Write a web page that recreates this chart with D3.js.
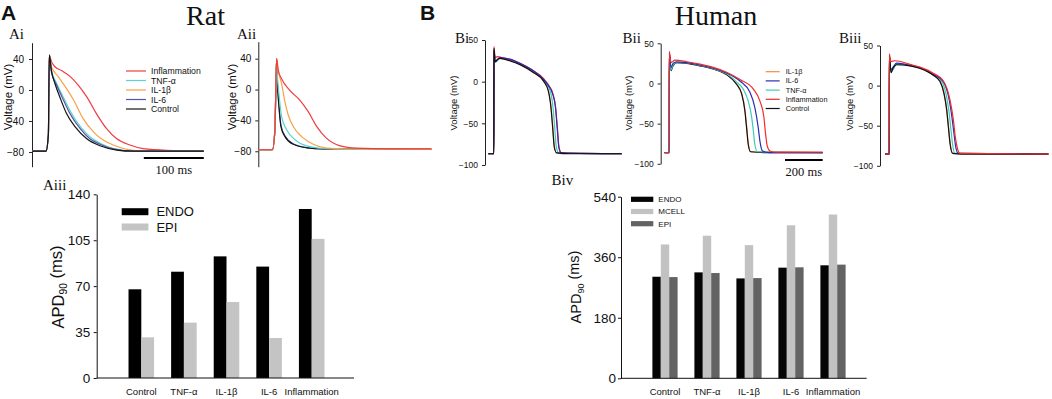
<!DOCTYPE html>
<html>
<head>
<meta charset="utf-8">
<script src="https://cdn.jsdelivr.net/npm/d3@7"></script>
<style>
body { margin: 0; background: #fff; }
text { font-family: "Liberation Sans", Arial, sans-serif; fill: #111; }
.serif { font-family: "Liberation Serif", "Times New Roman", serif; }
</style>
</head>
<body>
<svg id="fig" width="1052" height="399"></svg>
<script>
// ---- data: [time (ms), voltage (mV)] ----
// Rat, ENDO (Ai)
var aiControl = [[-28,-79],[-5,-79],[-1,-57],[0.5,45],[4,25],[10,8],[18,-9],[29,-30],[44,-48],[63,-63],[85,-72],[113,-77.5],[141,-79],[258,-79]];
var aiIl6 = [[-28,-79],[-5,-79],[-1,-57],[0.5,45],[4,23],[12.8,6],[24,-13],[35,-30.5],[52,-50],[68,-63],[85,-70],[107,-76],[141,-79],[258,-79]];
var aiTnf = [[-28,-79],[-5,-79],[-1,-57],[0.5,45],[4,26],[13,8],[25,-11],[36,-28],[53,-48],[69,-61],[86,-69],[108,-75.5],[141,-78.5],[258,-79]];
var aiIl1b = [[-28,-79],[-5,-79],[-1,-57],[0.5,45],[4,30],[15.6,17],[29,2],[41,-13],[57,-37],[74,-54],[91,-65],[107,-71],[129,-76.5],[152,-78.5],[258,-79]];
var aiInflam = [[-28,-79],[-5,-79],[-1,-57],[0.5,45],[4.4,36],[10,30],[21,25],[35,17.6],[49,6],[63,-9],[79,-30.5],[96,-50],[113,-63],[135,-71],[157,-75.7],[196,-77.8],[258,-78.5]];
// Rat, EPI (Aii)
var aiiControl = [[-31,-78],[-7,-78],[-2.8,-52],[0,40],[1.1,12],[3.9,-22],[7.2,-48],[13.9,-61],[27.8,-71],[50,-75.5],[78,-77],[258,-77.5]];
var aiiIl6 = [[-31,-78],[-7,-78],[-2.8,-52],[0,40],[1.2,13],[4,-21],[7.5,-47],[14.5,-60.5],[28.5,-70.5],[51,-75.3],[80,-77],[258,-77.5]];
var aiiTnf = [[-31,-78],[-7,-78],[-2.8,-52],[0,40],[1.1,20.6],[4.4,-9.4],[8.3,-35],[16.7,-52],[30.6,-65],[50,-73],[78,-76.4],[120,-77.5],[258,-77.5]];
var aiiIl1b = [[-31,-78],[-7,-78],[-2.8,-52],[0,40],[1.7,29],[8.3,7.7],[13.9,-16],[19.4,-33],[27.8,-48],[41.7,-61],[61,-71],[83,-76],[117,-77],[258,-77.5]];
var aiiInflam = [[-31,-78],[-7,-78],[-2.8,-52],[0,40],[2.8,25],[8.3,14],[22,-1],[39,-14],[53,-29],[67,-48],[83,-63],[106,-73],[133,-76],[189,-77],[258,-77]];
// Human, ENDO (Bi)
var biControl = [[-30,-86.5],[-0.5,-86.5],[0,40],[6,24],[20,27],[32,28],[85,25],[138,20.5],[209,11],[262,1],[288,-11],[302,-31],[311,-55],[320,-79],[332,-85.5],[400,-86.5],[677,-86.5]];
var biIl1b = [[-30,-86.5],[-0.5,-86.5],[0,39],[6,25],[32,28],[85,25.5],[138,20.5],[209,11],[262,1],[289,-11],[303,-31],[312,-55],[321,-79],[333,-85.5],[677,-86.5]];
var biTnf = [[-30,-86.5],[-0.5,-86.5],[0,38],[6,23],[32,28],[85,26],[138,21],[209,12],[262,2],[298,-11],[313,-31],[322,-55],[331,-79],[344,-85.5],[677,-86.5]];
var biIl6 = [[-30,-86.5],[-0.5,-86.5],[0,38],[6,24],[32,29],[85,27],[138,22],[209,13],[262,3],[290,-5],[310,-14],[326,-31],[335,-55],[344,-79],[356,-85.5],[677,-86.5]];
var biInflam = [[-30,-86.5],[-0.5,-86.5],[0,42],[6,29],[20,30],[40,29],[85,26.5],[138,22],[209,13],[262,4],[292,-5],[312,-14],[327,-31],[336,-55],[345,-79],[358,-85.5],[677,-86.5]];
// Human, MCELL (Bii)
var biiControl = [[-26,-86],[-0.5,-86],[0,38],[9,16],[20,22],[39,26],[92,25],[163,22],[233,18],[304,11],[357,-1],[384,-13],[401,-34],[410,-55],[419,-76],[431,-85],[500,-86],[814,-86]];
var biiIl1b = [[-26,-86],[-0.5,-86],[0,37],[9,18],[20,23],[39,26],[92,25],[163,22],[233,18],[304,11],[357,-1],[385,-13],[402,-34],[411,-55],[420,-76],[432,-85],[814,-86]];
var biiTnf = [[-26,-86],[-0.5,-86],[0,37],[9,17],[20,23],[39,26],[92,25.5],[163,22.5],[233,18.5],[304,12],[357,2],[392,-7],[419,-22],[437,-42],[446,-59],[454,-76],[467,-85],[814,-86]];
var biiIl6 = [[-26,-86],[-0.5,-86],[0,37],[9,20],[20,25],[39,27],[92,26],[163,23],[233,19],[304,13],[375,3],[428,-11],[454,-30],[472,-55],[481,-72],[495,-84],[530,-86],[814,-86]];
var biiInflam = [[-26,-86],[-0.5,-86],[0,40],[9,26],[30,29],[92,27],[163,24],[233,20],[304,14],[375,5],[446,-7],[481,-22],[502,-42],[511,-63],[520,-78],[534,-84],[570,-85.5],[814,-85.5]];
// Human, EPI (Biii)
var biiiControl = [[-23,-85.4],[-0.5,-85.4],[0,38],[9,16],[20,22],[39,26],[110,24.5],[163,21.5],[233,13],[269,5],[290,-10],[304,-30],[313,-51],[322,-72],[336,-84.6],[380,-85.4],[844,-85.4]];
var biiiIl1b = [[-23,-85.4],[-0.5,-85.4],[0,37],[9,18],[39,26.5],[110,25],[163,22],[233,13.5],[269,5.5],[291,-10],[305,-30],[314,-51],[323,-72],[337,-84.6],[844,-85.4]];
var biiiTnf = [[-23,-85.4],[-0.5,-85.4],[0,37],[9,17],[39,26.5],[110,25],[163,22],[233,13.5],[278,5],[304,-14],[318,-35],[327,-55],[336,-74],[348,-84.6],[844,-85.4]];
var biiiIl6 = [[-23,-85.4],[-0.5,-85.4],[0,37],[7,20],[39,28],[110,25.5],[163,22.5],[233,14],[286,5],[318,-18],[332,-39],[343,-60],[352,-76],[366,-84.6],[844,-85.4]];
var biiiInflam = [[-23,-85.4],[-0.5,-85.4],[0,39.5],[7,30],[30,31],[110,26.5],[163,23],[233,15.5],[286,6],[322,-18],[340,-43],[350,-64],[361,-78],[375,-84.6],[844,-85.4]];

// APD90 bars
var ratCategories = ["Control", "TNF-α", "IL-1β", "IL-6", "Inflammation"];
var ratEndo = [67.6, 81, 92.7, 84.9, 128.8];
var ratEpi = [31, 42.2, 57.9, 30.5, 106];
var ratApdTicks = [0, 35, 70, 105, 140];

var humanCategories = ["Control", "TNF-α", "IL-1β", "IL-6", "Inflammation"];
var humanEndo = [302, 315, 297, 329, 336];
var humanMcell = [398, 424, 396, 455, 487];
var humanEpi = [301, 313, 298, 330, 338];
var humanApdTicks = [0, 180, 360, 540];

var ratVoltTicks = [-80, -40, 0, 40];
var humanVoltTicks = [-100, -50, 0, 50];

var ratColors = { control: "#151515", tnf: "#5cd3cf", il1b: "#f7a145", il6: "#5656a6", inflam: "#f23a3e" };
var humanColors = { control: "#111111", tnf: "#3fcab8", il1b: "#f28a45", il6: "#2b2bb5", inflam: "#ee2b2b" };

var svg = d3.select("#fig");

// draws one action-potential panel and returns its time scale
function tracePanel(cfg) {
    var x = d3.scaleLinear().domain(cfg.tDomain).range(cfg.xRange);
    var y = d3.scaleLinear().domain(cfg.vDomain).range(cfg.yRange);
    var g = svg.append("g");

    var ax = g.append("g")
        .attr("transform", "translate(" + cfg.axisX + ",0)")
        .call(d3.axisLeft(y).tickValues(cfg.ticks).tickSize(3).tickSizeOuter(0).tickPadding(cfg.pad));
    ax.selectAll("text").style("font-size", cfg.tickFont + "px").style("font-family", '"Liberation Sans", Arial, sans-serif').attr("fill", "#222");
    ax.selectAll("path, line").attr("stroke", "#222");

    var line = d3.line()
        .x(function (d) { return x(d[0]); })
        .y(function (d) { return y(d[1]); })
        .curve(d3.curveMonotoneX);

    cfg.traces.forEach(function (tr) {
        g.append("path")
            .datum(tr.data)
            .attr("d", line)
            .attr("fill", "none")
            .attr("stroke", tr.color)
            .attr("stroke-width", 1.2);
    });

    g.append("text")
        .attr("transform", "translate(" + cfg.labelX + "," + cfg.labelY + ") rotate(-90)")
        .attr("text-anchor", "middle")
        .style("font-size", cfg.labelFont + "px")
        .attr("fill", "#222")
        .text("Voltage (mV)");

    g.append("text").attr("class", "serif")
        .attr("x", cfg.nameX).attr("y", cfg.nameY)
        .style("font-size", "15px")
        .text(cfg.name);
    return x;
}

function traceLegend(items, x0, y0, step, fontSize) {
    var g = svg.append("g");
    items.forEach(function (it, i) {
        var yy = y0 + i * step;
        g.append("line").attr("x1", x0).attr("x2", x0 + (fontSize > 8 ? 20 : 14))
            .attr("y1", yy).attr("y2", yy)
            .attr("stroke", it.color).attr("stroke-width", 1.2);
        g.append("text").attr("x", x0 + (fontSize > 8 ? 25 : 20)).attr("y", yy)
            .attr("dy", "0.35em")
            .style("font-size", fontSize + "px")
            .attr("fill", "#222")
            .text(it.name);
    });
}

function scaleBar(x, tEnd, y, label) {
    svg.append("line")
        .attr("x1", x(tEnd - (label === "100 ms" ? 100 : 200))).attr("x2", x(tEnd))
        .attr("y1", y).attr("y2", y)
        .attr("stroke", "#000").attr("stroke-width", 1.8);
    svg.append("text").attr("class", "serif")
        .attr("x", (x(tEnd - (label === "100 ms" ? 100 : 200)) + x(tEnd)) / 2)
        .attr("y", y + 16)
        .attr("text-anchor", "middle")
        .style("font-size", "12.5px")
        .text(label);
}

function barPanel(cfg) {
    var x = d3.scaleBand().domain(cfg.cats).range(cfg.xRange).paddingInner(0.4).paddingOuter(0.2);
    var xs = d3.scaleBand().domain(cfg.series.map(function (s) { return s.name; })).range([0, x.bandwidth()]);
    var y = d3.scaleLinear().domain([0, cfg.max]).range(cfg.yRange);
    var g = svg.append("g");

    cfg.series.forEach(function (s) {
        g.selectAll(null)
            .data(s.values)
            .enter()
            .append("rect")
            .attr("x", function (d, i) { return x(cfg.cats[i]) + xs(s.name); })
            .attr("y", function (d) { return y(d); })
            .attr("width", xs.bandwidth())
            .attr("height", function (d) { return y(0) - y(d); })
            .attr("fill", s.color);
    });

    var ay = g.append("g")
        .attr("transform", "translate(" + cfg.axisX + ",0)")
        .call(d3.axisLeft(y).tickValues(cfg.ticks).tickSize(3).tickSizeOuter(0).tickPadding(cfg.pad));
    ay.selectAll("text").style("font-size", "13.5px").style("font-family", '"Liberation Sans", Arial, sans-serif').attr("fill", "#111");
    ay.selectAll("path, line").attr("stroke", "#111");

    g.append("line")
        .attr("x1", cfg.axisX).attr("x2", cfg.axisEnd)
        .attr("y1", y(0)).attr("y2", y(0))
        .attr("stroke", "#111");

    var axb = g.append("g")
        .attr("transform", "translate(0," + y(0) + ")")
        .call(d3.axisBottom(x).tickSize(0).tickPadding(10));
    axb.select(".domain").remove();
    axb.selectAll("text").style("font-size", "9.5px").style("font-family", '"Liberation Sans", Arial, sans-serif').attr("fill", "#111");

    var lab = g.append("text")
        .attr("transform", "translate(" + cfg.labelX + "," + cfg.labelY + ") rotate(-90)")
        .attr("text-anchor", "middle")
        .style("font-size", cfg.labelFont + "px");
    lab.append("tspan").text("APD");
    lab.append("tspan").attr("dy", "0.3em").style("font-size", (cfg.labelFont * 0.62) + "px").text("90");
    lab.append("tspan").attr("dy", "-0.3em").text(" (ms)");

    // legend
    cfg.series.forEach(function (s, i) {
        var yy = cfg.legY + i * cfg.legStep;
        g.append("rect")
            .attr("x", cfg.legX).attr("y", yy - cfg.legH / 2)
            .attr("width", cfg.legW).attr("height", cfg.legH)
            .attr("fill", s.color);
        g.append("text")
            .attr("x", cfg.legX + cfg.legW + cfg.legGap).attr("y", yy)
            .attr("dy", "0.36em")
            .style("font-size", cfg.legFont + "px")
            .text(s.name);
    });

    g.append("text").attr("class", "serif")
        .attr("x", cfg.nameX).attr("y", cfg.nameY)
        .style("font-size", "15px")
        .text(cfg.name);
}

// ---- headings ----
svg.append("text").attr("x", 1).attr("y", 20).style("font-size", "21px").style("font-weight", "bold").text("A");
svg.append("text").attr("x", 420).attr("y", 19.5).style("font-size", "21px").style("font-weight", "bold").text("B");
svg.append("text").attr("class", "serif").attr("x", 205.5).attr("y", 25).attr("text-anchor", "middle").style("font-size", "28px").text("Rat");
svg.append("text").attr("class", "serif").attr("x", 716).attr("y", 25).attr("text-anchor", "middle").style("font-size", "28px").text("Human");

// ---- rat traces ----
var xAi = tracePanel({
    tDomain: [-28, 258], xRange: [32.2, 203.8], vDomain: [-99, 61], yRange: [166.7, 42.7],
    axisX: 32, ticks: ratVoltTicks, pad: 5, tickFont: 10,
    labelX: 12, labelY: 97, labelFont: 11.5, name: "Ai", nameX: 9, nameY: 39,
    traces: [
        { data: aiInflam, color: ratColors.inflam },
        { data: aiTnf, color: ratColors.tnf },
        { data: aiIl1b, color: ratColors.il1b },
        { data: aiIl6, color: ratColors.il6 },
        { data: aiControl, color: ratColors.control }
    ]
});
traceLegend([
    { name: "Inflammation", color: ratColors.inflam },
    { name: "TNF-α", color: ratColors.tnf },
    { name: "IL-1β", color: ratColors.il1b },
    { name: "IL-6", color: ratColors.il6 },
    { name: "Control", color: ratColors.control }
], 126, 71, 9.5, 8.7);
scaleBar(xAi, 258, 158, "100 ms");

tracePanel({
    tDomain: [-31, 258], xRange: [258, 431.4], vDomain: [-100, 62], yRange: [166.7, 41.7],
    axisX: 258.3, ticks: ratVoltTicks, pad: 4, tickFont: 10,
    labelX: 236, labelY: 97, labelFont: 11.5, name: "Aii", nameX: 237, nameY: 39,
    traces: [
        { data: aiiIl6, color: ratColors.il6 },
        { data: aiiControl, color: ratColors.control },
        { data: aiiTnf, color: ratColors.tnf },
        { data: aiiIl1b, color: ratColors.il1b },
        { data: aiiInflam, color: ratColors.inflam }
    ]
});

// ---- human traces ----
tracePanel({
    tDomain: [-30, 677], xRange: [488.3, 621.7], vDomain: [-100, 50], yRange: [165, 40],
    axisX: 485, ticks: humanVoltTicks, pad: 4, tickFont: 8.5,
    labelX: 457, labelY: 103, labelFont: 9.5, name: "Bi", nameX: 455, nameY: 43,
    traces: [
        { data: biIl1b, color: humanColors.il1b },
        { data: biTnf, color: humanColors.tnf },
        { data: biInflam, color: humanColors.inflam },
        { data: biIl6, color: humanColors.il6 },
        { data: biControl, color: humanColors.control }
    ]
});

var xBii = tracePanel({
    tDomain: [-26, 814], xRange: [664.4, 822.7], vDomain: [-100, 50], yRange: [163.8, 43.3],
    axisX: 660.7, ticks: humanVoltTicks, pad: 4, tickFont: 8.5,
    labelX: 632, labelY: 103, labelFont: 9.5, name: "Bii", nameX: 622.5, nameY: 43,
    traces: [
        { data: biiIl1b, color: humanColors.il1b },
        { data: biiControl, color: humanColors.control },
        { data: biiTnf, color: humanColors.tnf },
        { data: biiIl6, color: humanColors.il6 },
        { data: biiInflam, color: humanColors.inflam }
    ]
});
traceLegend([
    { name: "IL-1β", color: humanColors.il1b },
    { name: "IL-6", color: humanColors.il6 },
    { name: "TNF-α", color: humanColors.tnf },
    { name: "Inflammation", color: humanColors.inflam },
    { name: "Control", color: humanColors.control }
], 765.7, 71.7, 9.2, 7.3);
scaleBar(xBii, 814, 160, "200 ms");

tracePanel({
    tDomain: [-23, 844], xRange: [885, 1048.4], vDomain: [-100, 50], yRange: [165.8, 45.5],
    axisX: 880, ticks: humanVoltTicks, pad: 4, tickFont: 8.5,
    labelX: 853, labelY: 103, labelFont: 9.5, name: "Biii", nameX: 839, nameY: 43,
    traces: [
        { data: biiiIl1b, color: humanColors.il1b },
        { data: biiiTnf, color: humanColors.tnf },
        { data: biiiIl6, color: humanColors.il6 },
        { data: biiiControl, color: humanColors.control },
        { data: biiiInflam, color: humanColors.inflam }
    ]
});

// ---- APD90 bar charts ----
barPanel({
    cats: ratCategories, xRange: [120, 333], max: 140, yRange: [378, 194.3], ticks: ratApdTicks,
    axisX: 96.7, axisEnd: 354, pad: 3.5,
    series: [
        { name: "ENDO", values: ratEndo, color: "#000000" },
        { name: "EPI", values: ratEpi, color: "#c4c4c4" }
    ],
    labelX: 64, labelY: 287, labelFont: 16.5,
    legX: 121.7, legY: 211.7, legStep: 15.3, legW: 26.7, legH: 7, legGap: 8, legFont: 13,
    name: "Aiii", nameX: 43, nameY: 190
});

barPanel({
    cats: humanCategories, xRange: [644, 854], max: 540, yRange: [378.3, 196.7], ticks: humanApdTicks,
    axisX: 621, axisEnd: 866.7, pad: 2,
    series: [
        { name: "ENDO", values: humanEndo, color: "#050505" },
        { name: "MCELL", values: humanMcell, color: "#c2c2c2" },
        { name: "EPI", values: humanEpi, color: "#636363" }
    ],
    labelX: 581, labelY: 287, labelFont: 14.5,
    legX: 631, legY: 199.3, legStep: 12.2, legW: 22.3, legH: 5.2, legGap: 5, legFont: 8,
    name: "Biv", nameX: 551.5, nameY: 185
});
</script>
</body>
</html>
